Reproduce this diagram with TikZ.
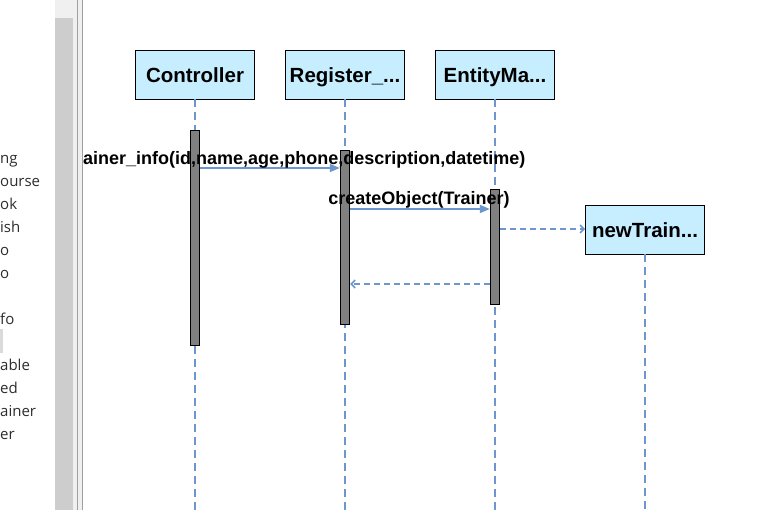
\documentclass[tikz,border=0pt]{standalone}
\usepackage{fontspec}
\setmainfont{Liberation Sans}
\newfontfamily\panelfont{Open Sans}
\usetikzlibrary{arrows.meta}
\definecolor{lifeblue}{RGB}{108,150,205}
\definecolor{boxfill}{RGB}{198,238,255}
\definecolor{actgray}{RGB}{128,128,128}
\definecolor{panelgray}{RGB}{205,205,205}
\definecolor{panellight}{RGB}{240,240,240}
\definecolor{panelline}{RGB}{160,160,160}
\definecolor{treetext}{RGB}{45,45,45}
\begin{document}
\begin{tikzpicture}[x=1pt, y=-1pt,
  obj/.style={draw, fill=boxfill, line width=.8pt, minimum width=119pt, minimum height=49pt, inner sep=0pt, text height=17pt, text depth=1.4pt, font=\bfseries\fontsize{20.5}{24}\selectfont},
  act/.style={draw, fill=actgray, line width=.8pt, minimum width=9.5pt, inner sep=0pt},
  life/.style={lifeblue, line width=1.5pt, dash pattern=on 8pt off 5pt},
  msg/.style={lifeblue, line width=1.5pt, -{Triangle[length=10pt,width=8pt]}},
  ret/.style={lifeblue, line width=1.5pt, dash pattern=on 6pt off 4pt, -{Straight Barb[length=4pt,width=8pt]}},
  lbl/.style={inner sep=0pt, font=\bfseries\fontsize{18}{22}\selectfont},
  tree/.style={inner sep=0pt, anchor=base west, text=treetext, font=\panelfont\fontsize{15}{18}\selectfont}]
\useasboundingbox (0,0) rectangle (772,510);
\fill[white] (0,0) rectangle (772,510);
\fill[panellight] (55,0) rectangle (83,510);
\fill[panelgray] (55,18) rectangle (73,510);
\draw[panelline] (77.2,0) -- (77.2,510) (82.2,0) -- (82.2,510);
\fill[panellight!80!gray] (0,329) rectangle (2.5,353);
\foreach \t/\y [count=\i] in {ng/164, ourse/187, ok/210, ish/233, o/256, o/279, fo/325, able/371, ed/394, ainer/417, er/440}
  \node[tree] (t\i) at (0,\y) {\t};
\node[obj] (ctrl) at (195,74.5) {Controller};
\node[obj] (reg) at (345,74.5) {Register\_...};
\node[obj] (ent) at (495,74.5) {EntityMa...};
\node[obj] (newt) at (645,229.5) {newTrain...};
\coordinate (bot) at (0,510);
\foreach \o in {ctrl,reg,ent,newt}
  \draw[life] (\o.south) -- (\o.south |- bot);
\node[act, minimum height=215pt] (a1) at (195,237.5) {};
\node[act, minimum height=174pt] (a2) at (345,237) {};
\node[act, minimum height=115pt] (a3) at (495,246.5) {};
\coordinate (m1) at (0,168);
\coordinate (m2) at (0,209);
\coordinate (m3) at (0,229);
\coordinate (m4) at (0,284);
\draw[msg] (a1.east |- m1) -- (a2.west |- m1);
\draw[msg] (a2.east |- m2) -- (a3.west |- m2);
\draw[ret] (a3.east |- m3) -- (newt.west |- m3);
\draw[ret] (a3.west |- m4) -- (a2.east |- m4);
\node[lbl, anchor=base west] (l1) at (83,165) {ainer\_info(id,name,age,phone,description,datetime)};
\node[lbl, anchor=base] (l2) at (419,205) {createObject(Trainer)};
\end{tikzpicture}
\end{document}
